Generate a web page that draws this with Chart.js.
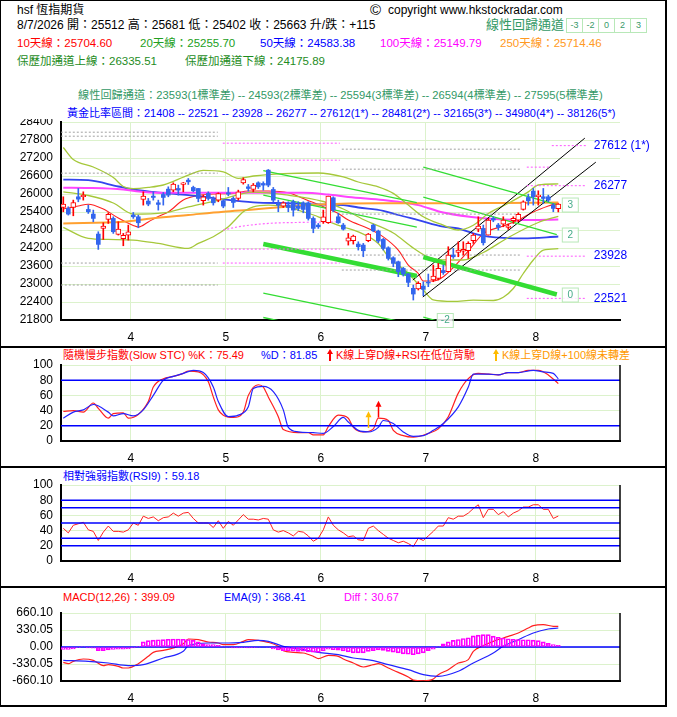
<!DOCTYPE html>
<html><head><meta charset="utf-8">
<script src="https://cdn.jsdelivr.net/npm/chart.js@4.4.1/dist/chart.umd.min.js"></script>
<style>
body{margin:0;background:#fff;width:677px;height:717px;overflow:hidden;position:relative;font-family:"Liberation Sans","Noto Sans CJK TC",sans-serif;}
.t{position:absolute;white-space:nowrap;font-size:11.5px;line-height:14px;}
canvas{position:absolute;left:0;top:0;}
.hl{position:absolute;background:#000;}
.bx{position:absolute;top:18px;height:13px;width:15px;border:1px solid #b8e8b8;font-size:9px;line-height:13px;text-align:center;color:#3a9a6a;}
</style></head><body>
<div class="hl" style="left:0;top:0;width:667px;height:1px"></div>
<div class="hl" style="left:0;top:0;width:1px;height:707px"></div>
<div class="hl" style="left:665px;top:0;width:2px;height:707px"></div>
<div class="hl" style="left:0;top:705px;width:667px;height:2px"></div>
<div class="hl" style="left:0;top:346px;width:667px;height:2px"></div>
<div class="hl" style="left:0;top:466px;width:667px;height:2px"></div>
<div class="hl" style="left:0;top:586px;width:667px;height:2px"></div>

<div class="t" style="left:17px;top:3px;color:#000;font-size:12px">hsf 恆指期貨</div>
<div class="t" style="left:17px;top:18px;color:#000;font-size:12px">8/7/2026 開：25512 高：25681 低：25402 收：25663 升/跌：+115</div>
<div class="t" style="left:17px;top:36px;color:#ff0000">10天線：25704.60</div>
<div class="t" style="left:140px;top:36px;color:#22a022">20天線：25255.70</div>
<div class="t" style="left:260px;top:36px;color:#0000ff">50天線：24583.38</div>
<div class="t" style="left:380px;top:36px;color:#ff00ff">100天線：25149.79</div>
<div class="t" style="left:500px;top:36px;color:#ff9922">250天線：25714.46</div>
<div class="t" style="left:17px;top:54px;color:#1e8c1e">保歷加通道上線：26335.51</div>
<div class="t" style="left:185px;top:54px;color:#1e8c1e">保歷加通道下線：24175.89</div>
<div class="t" style="left:370px;top:1px;color:#000;font-size:15px;line-height:18px">©</div>
<div class="t" style="left:388px;top:3px;color:#000;font-size:12px">copyright www.hkstockradar.com</div>
<div class="t" style="left:486px;top:18px;color:#339966;font-size:13px">線性回歸通道</div>
<div class="bx" style="left:566px">-3</div>
<div class="bx" style="left:582px">-2</div>
<div class="bx" style="left:598px">0</div>
<div class="bx" style="left:614px">2</div>
<div class="bx" style="left:630px">3</div>
<div class="t" style="left:78px;top:88px;color:#339966;font-size:11.2px">線性回歸通道：23593(1標準差) -- 24593(2標準差) -- 25594(3標準差) -- 26594(4標準差) -- 27595(5標準差)</div>
<div class="t" style="left:67px;top:106px;color:#0000ff;font-size:11px">黃金比率區間：21408 -- 22521 -- 23928 -- 26277 -- 27612(1*) -- 28481(2*) -- 32165(3*) -- 34980(4*) -- 38126(5*)</div>

<div class="t" style="left:63px;top:348px;color:#ff0000;font-size:11px">隨機慢步指數(Slow STC) %K：75.49</div>
<div class="t" style="left:261px;top:348px;color:#0000ff;font-size:11px">%D：81.85</div>
<svg style="position:absolute;left:326px;top:348px" width="8" height="14"><path d="M4 1 L7 6 L5 6 L5 13 L3 13 L3 6 L1 6 Z" fill="#ff0000"/></svg>
<div class="t" style="left:336px;top:348px;color:#ff0000;font-size:11px">K線上穿D線+RSI在低位背馳</div>
<svg style="position:absolute;left:492px;top:348px" width="8" height="14"><path d="M4 1 L7 6 L5 6 L5 13 L3 13 L3 6 L1 6 Z" fill="#ffbb00"/></svg>
<div class="t" style="left:502px;top:348px;color:#ff9900;font-size:11px">K線上穿D線+100線未轉差</div>
<div class="t" style="left:63px;top:469px;color:#0000ff;font-size:11px">相對強弱指數(RSI9)：59.18</div>
<div class="t" style="left:63px;top:590px;color:#ff0000;font-size:11px">MACD(12,26)：399.09</div>
<div class="t" style="left:224px;top:590px;color:#0000ff;font-size:11px">EMA(9)：368.41</div>
<div class="t" style="left:344px;top:590px;color:#ff00ff;font-size:11px">Diff：30.67</div>

<canvas id="cPrice" width="677" height="717"></canvas>
<canvas id="cStoch" width="677" height="717"></canvas>
<canvas id="cRsi" width="677" height="717"></canvas>
<canvas id="cMacd" width="677" height="717"></canvas>
<div style="position:absolute;left:12px;top:109px;width:46px;height:10px;background:#fff;z-index:5"></div>

<script>
// ---------- DATA ----------
const monthStart = [14, 33, 52, 73, 95];      // day index of first trading day per month
const monthLabels = ['4', '5', '6', '7', '8'];

const open  = [25552,25519,25552,25907,25907,25485,25330,24664,24853,25152,25186,24653,24508,24631,25297,25241,25818,25763,25929,25707,
               25985,26162,26129,26184,26318,26462,26218,26184,25774,26018,25829,25796,25774,26040,25852,25852,26373,26240,26151,26373,
               26351,26795,26151,25685,25597,25630,25741,25597,25707,25707,25186,24963,25075,25041,25874,25241,24963,24431,24442,24331,
               24297,24442,24963,24764,24486,24208,23875,23742,23520,23332,22855,22832,22932,23065,23132,23187,23450,23409,23965,24053,
               24098,24109,24442,24830,24853,24630,25186,24964,24997,24886,25108,25130,25485,25885,26096,25907,25907,25907,25630,25512];
const high  = [25907,25574,25796,26184,26073,25630,25463,24742,25041,25374,25241,25075,24686,24963,25385,25297,26073,25852,26073,25796,
               26051,26240,26373,26296,26384,26518,26262,26184,25962,26073,25907,26040,25796,26218,25907,26129,26540,26318,26351,26407,
               26407,26817,26218,25796,25741,25741,25796,25741,25741,25741,25241,25019,25463,25929,25907,25352,25019,24686,24630,24408,
               24353,24686,24997,24797,24520,24242,23909,23765,23554,23354,22966,23076,23076,23332,23632,23687,23632,24242,24187,24408,
               24408,24408,24686,25241,24964,25186,25241,25019,25241,24997,25241,25374,25774,25996,26185,26107,26185,25963,25685,25681];
const low   = [25408,25297,25274,25741,25796,25352,25075,24153,24486,25019,24686,24631,24275,24464,25186,24875,25630,25608,25796,25463,
               25630,25907,26073,25962,26073,26318,26073,25741,25630,25796,25630,25741,25541,25940,25552,25796,26329,26096,26073,26184,
               26129,26240,25741,25408,25552,25408,25263,25441,25374,25130,24708,24853,25019,25019,25408,25019,24797,24297,24331,24131,
               23909,24408,24742,24375,24131,23798,23576,23243,23265,22910,22466,22799,22610,22910,23076,23132,23320,23409,23854,23909,
               23965,23854,24353,24742,24298,24630,25075,24797,24908,24820,25019,25075,25463,25630,25630,25630,25685,25741,25408,25402];
const close = [25663,25330,25718,25829,25962,25408,25186,24320,24930,25319,24742,24830,24619,24742,25241,25041,25929,25663,25885,25652,
               25885,25962,26329,26129,26373,26407,26107,25852,25907,25852,25707,26018,25597,25996,25718,26073,26484,26184,26296,26240,
               26296,26296,25796,25630,25707,25552,25463,25519,25485,25186,24853,24908,25241,25929,25463,25041,24830,24542,24597,24242,
               24109,24664,24775,24431,24186,23853,23687,23409,23332,23054,22666,23021,22821,23032,23265,23520,23380,23965,23909,24131,
               24153,24353,24630,24930,24375,25130,25130,24886,25130,24930,25186,25319,25741,25774,25907,25963,25852,25796,25519,25663];

// moving averages [dayIndex, value]
const ma10  = [[0,25500],[3,25600],[5,25660],[8,25500],[11,25200],[14,24950],[15,24900],[17,25070],[19,25250],[21,25400],[24,25800],[27,25950],[30,26000],[34,26020],[37,26100],[41,26100],[45,26040],[48,25850],[51,25650],[55,25350],[57,25130],[61,24850],[64,24570],[67,24130],[69,23630],[71,23350],[72,23100],[74,23100],[76,23240],[78,23550],[81,24100],[84,24680],[88,24930],[91,25130],[94,25400],[97,25600],[99,25705]];
const ma20  = [[0,26070],[5,25950],[10,25700],[14,25330],[20,25370],[25,25570],[31,25790],[38,26060],[45,25960],[52,25750],[56,25500],[60,25150],[66,24700],[70,24200],[73,23900],[77,23800],[80,23800],[84,24050],[89,24550],[95,25050],[99,25256]];
const ma50  = [[0,26480],[5,26460],[11,26250],[14,26150],[18,26070],[25,25960],[28,25910],[32,25820],[38,25720],[46,25690],[51,25650],[56,25630],[59,25550],[64,25440],[67,25300],[71,25130],[76,24910],[79,24850],[82,24690],[85,24580],[92,24520],[99,24583]];
const ma100 = [[0,26210],[5,26200],[12,26150],[16,26070],[22,26040],[38,26040],[48,26040],[53,25980],[57,25900],[64,25800],[67,25740],[71,25630],[76,25380],[84,25190],[92,25130],[99,25150]];
const ma250 = [[0,25020],[12,25075],[18,25190],[25,25300],[32,25410],[38,25485],[44,25570],[51,25650],[57,25685],[64,25690],[76,25690],[88,25700],[99,25714]];
const bollUp = [[0,27550],[2,27150],[6,26900],[10,26550],[12,26250],[14,26180],[17,26220],[20,26300],[25,26630],[28,26790],[32,26740],[35,26520],[38,26600],[44,26680],[51,26700],[56,26570],[59,26400],[63,26240],[66,26020],[69,25630],[72,25240],[76,24960],[79,24800],[82,24960],[85,25350],[89,25690],[93,26070],[95,26300],[99,26336]];
const bollLo = [[0,24886],[5,24520],[9,24486],[14,24464],[19,24353],[25,24186],[27,24353],[30,24575],[33,24908],[34,25074],[36,25408],[38,25574],[41,25630],[45,25574],[47,25463],[51,25241],[54,25019],[56,24900],[59,24740],[63,24350],[65,23910],[69,23350],[72,22800],[74,22470],[78,22420],[82,22460],[86,22450],[88,22560],[90,22850],[92,23350],[94,23800],[96,24130],[99,24176]];

// regression channels: [startIdx, startValue, endIdx, endValue]
const chanA = { '+3':[40,26779,70.7,25713], '+2':[40,25963,70.7,24897], '0':[40,24331,70.7,23265], '-2':[40,22699,70.7,21633], '-3':[40,21883,70.7,20817] };
const chanB = { '3':[72,26898,98.7,25649], '2':[72,25898,98.7,24649], '0':[72,23898,98.7,22649], '-2':[72,21898,98.7,20649] };
const blackUp = [[69.9,23132],[104.3,27861]];
const blackLo = [[71.9,22566],[106.5,27061]];

// horizontal reference levels
const grayLv1 = [28060, 27927, 26695, 23698, 22966], graySpan1 = [-0.5, 30.9];
const grayLv2 = [27494, 26828, 25330, 23965, 23465], graySpan2 = [55.7, 91.3];
const pinkLv1 = [27694, 27128, 24164, 23698],        pinkSpan1 = [31.9, 55.3];
const pinkCurve = [[32,24797],[35,24908],[41,25019],[47,25052],[55,25074]];
const goldLv = [27612, 26277, 23928, 22521], goldSpan = [[97.7,104.7],[92.7,104.7],[92.7,104.7],[92.7,104.7]];
const goldText = ['27612 (1*)', '26277', '23928', '22521'];
const pinkShort = [[92.7,26895],[97.3,26895]];

// stochastic
const stochK = [[0,39],[2,40],[4,38],[6,50],[7,43],[9,30],[10,36],[12,37],[13,30],[17,52],[18,71],[20,82],[22,85],[24,89],[25,92],[27,91],[29,78],[30,58],[31,41],[32,34],[34,31],[36,38],[37,60],[39,74],[40,71],[41,58],[43,32],[44,15],[47,11],[49,11],[50,8],[52,8],[53,19],[55,34],[57,30],[58,18],[60,12],[62,16],[63,30],[65,27],[66,14],[68,7],[70,5],[73,10],[75,16],[77,32],[79,63],[81,82],[83,89],[85,88],[87,87],[89,90],[91,90],[93,93],[95,93],[97,87],[99,75.49]];
const stochD = [[0,30],[2,38],[4,41],[6,48],[9,38],[10,33],[12,36],[14,33],[16,41],[18,60],[20,80],[22,85],[24,89],[26,93],[28,90],[30,71],[31,52],[33,32],[35,34],[37,45],[38,69],[40,72],[42,65],[44,41],[45,18],[47,12],[50,11],[52,10],[54,19],[56,31],[57,25],[59,14],[61,12],[63,18],[64,27],[66,23],[68,12],[70,6],[72,7],[74,14],[76,23],[79,45],[81,71],[82,88],[85,88],[87,87],[89,90],[91,90],[94,93],[96,91],[98,89],[99,81.85]];
const stochArrows = [{i:61, from:17, to:39, color:'#ffbb00'}, {i:63, from:31, to:53, color:'#ff0000'}];
const stochLines = [80, 20];

// RSI(9)
const rsi = [43,37,47,49,51,41,39,27,38,46,39,39,38,41,50,47,59,56,58,53,57,58,63,59,63,64,56,50,50,50,
             44,53,43,52,47,54,61,55,55,54,56,55,41,38,40,37,33,39,38,33,26,30,41,58,47,41,37,32,33,28,
             27,43,46,40,35,30,27,24,26,23,19,30,27,33,39,46,46,57,55,59,59,63,69,74,57,68,68,61,65,58,
             63,66,71,71,74,74,68,68,56,59.18];
const rsiLines = [80, 70, 50, 30, 20];

// MACD
const macd = [[0,-298],[1,-324],[2,-278],[4,-233],[6,-259],[8,-362],[9,-343],[11,-375],[12,-408],[13,-408],[15,-324],[17,-181],[18,-104],[20,-65],[22,-19],[24,65],[25,155],[27,142],[29,97],[31,78],[32,45],[34,45],[36,110],[37,142],[39,129],[41,91],[43,13],[44,-71],[46,-104],[48,-116],[50,-181],[51,-226],[53,-162],[55,-181],[56,-233],[58,-310],[60,-388],[62,-343],[63,-324],[65,-408],[67,-492],[69,-582],[70,-640],[72,-655],[74,-621],[75,-537],[77,-440],[79,-310],[81,-246],[82,-84],[84,26],[86,110],[88,175],[89,207],[91,272],[93,369],[94,414],[96,433],[98,401],[99,399.09]];
const ema9 = [[0,-259],[5,-278],[9,-311],[13,-362],[16,-343],[20,-214],[24,-84],[25,26],[29,78],[32,78],[36,91],[39,129],[41,110],[44,13],[48,-52],[51,-104],[55,-149],[58,-214],[62,-265],[65,-343],[69,-440],[72,-537],[75,-569],[79,-472],[82,-311],[86,-116],[88,13],[91,142],[94,272],[97,349],[99,368.41]];
const diff = [-45,-45,-35,-5,10,-20,-25,-70,-70,-55,-45,-40,-40,-35,-20,15,100,125,135,140,142,150,155,155,150,145,130,100,60,45,
              45,30,10,-10,-20,-20,-15,-20,-15,-10,0,-10,-35,-55,-70,-75,-80,-85,-80,-95,-100,-105,-75,-40,-50,-60,-75,-95,-115,-115,
              -115,-85,-70,-55,-65,-85,-100,-115,-135,-140,-150,-135,-115,-70,-40,10,60,100,130,145,165,180,215,230,240,240,210,190,175,160,
              150,145,140,140,135,125,100,70,45,30.67];
const macdTicks = [-660.10, -330.05, 0, 330.05, 660.10];

// ---------- CHART HELPERS ----------
const X_MIN = -0.46, X_MAX = 111.34;
const GRID = '#dcf2cc';
const FONT = {family: '"Liberation Sans","Noto Sans CJK TC",sans-serif', size: 12};
const P = a => a.map(p => ({x: p[0], y: p[1]}));
const line = (data, color, w, extra) => Object.assign({type: 'line', data, borderColor: color, borderWidth: w, pointRadius: 0, fill: false, order: 10, cubicInterpolationMode: 'monotone'}, extra || {});

function makeChart(id, plotTop, plotBottom, yScale, datasets, plugins) {
  return new Chart(document.getElementById(id), {
    type: 'line',
    data: {datasets},
    options: {
      responsive: false, animation: false, devicePixelRatio: 1,
      layout: {padding: {left: 0, right: 677 - 620, top: plotTop, bottom: 717 - plotBottom - 26}},
      plugins: {legend: {display: false}, tooltip: {enabled: false}},
      scales: {
        x: {
          type: 'linear', min: X_MIN, max: X_MAX, offset: false,
          afterFit: s => { s.height = 26; },
          afterBuildTicks: s => { s.ticks = monthStart.map(v => ({value: v - 0.5})); },
          ticks: {callback: (v, i) => monthLabels[i], autoSkip: false, maxRotation: 0, padding: 10, color: '#000', font: FONT},
          grid: {color: GRID, drawTicks: false, lineWidth: 1, offset: false},
          border: {color: '#000', width: 2}
        },
        y: Object.assign({
          afterFit: s => { s.width = 61; },
          grid: {color: GRID, drawTicks: false},
          border: {color: '#000', width: 2}
        }, yScale)
      }
    },
    plugins: plugins || []
  });
}

const rightBorder = {id: 'rightBorder', afterDraw(c) {
  const {ctx, chartArea: a} = c;
  ctx.save(); ctx.strokeStyle = '#000'; ctx.lineWidth = 1.5;
  ctx.beginPath(); ctx.moveTo(a.right, a.top); ctx.lineTo(a.right, a.bottom + 1); ctx.stroke(); ctx.restore();
}};

// ---------- PRICE PANEL ----------
const priceSets = [];
grayLv1.forEach(v => priceSets.push(line([{x: graySpan1[0], y: v}, {x: graySpan1[1], y: v}], '#a0a0a0', 1, {borderDash: [2, 2]})));
grayLv2.forEach(v => priceSets.push(line([{x: graySpan2[0], y: v}, {x: graySpan2[1], y: v}], '#a0a0a0', 1, {borderDash: [2, 2]})));
pinkLv1.forEach(v => priceSets.push(line([{x: pinkSpan1[0], y: v}, {x: pinkSpan1[1], y: v}], '#ff55ff', 1, {borderDash: [2, 2]})));
priceSets.push(line(P(pinkCurve), '#ff66ff', 1.2, {borderDash: [2, 2]}));
goldLv.forEach((v, k) => priceSets.push(line([{x: goldSpan[k][0], y: v}, {x: goldSpan[k][1], y: v}], '#ff55ff', 1, {borderDash: [2, 2], clip: false})));
priceSets.push(line(P(pinkShort), '#ff55ff', 1, {borderDash: [2, 2]}));
Object.keys(chanA).forEach(k => { const s = chanA[k]; priceSets.push(line([{x: s[0], y: s[1]}, {x: s[2], y: s[3]}], '#33dd33', k === '0' ? 4.5 : 1.3)); });
Object.keys(chanB).forEach(k => { const s = chanB[k]; priceSets.push(line([{x: s[0], y: s[1]}, {x: s[2], y: s[3]}], '#33dd33', k === '0' ? 4.5 : 1.3)); });
priceSets.push(line(P(blackUp), '#000', 1, {clip: false}));
priceSets.push(line(P(blackLo), '#000', 1, {clip: false}));
priceSets.push(line(P(bollUp), '#a6c83a', 1.3));
priceSets.push(line(P(bollLo), '#a6c83a', 1.3));
priceSets.push(line(P(ma20), '#a6c83a', 1.3));
priceSets.push(line(P(ma250), '#ffa030', 2));
priceSets.push(line(P(ma100), '#ff44ff', 2));
priceSets.push(line(P(ma50), '#3344ee', 1.8));
priceSets.push(line(P(ma10), '#ff2020', 1.1));

const wUp = [], wDn = [], bUp = [], bDn = [];
open.forEach((o, i) => {
  const c = close[i], up = c >= o;
  (up ? wUp : wDn).push({x: i, y: [low[i], high[i]]});
  (up ? bUp : bDn).push({x: i, y: [Math.min(o, c), Math.max(o, c)]});
});
const bar = (data, fill, border, thick, bw, order) => ({type: 'bar', data, backgroundColor: fill, borderColor: border, borderWidth: bw, barThickness: thick, grouped: false, borderSkipped: false, order});
priceSets.push(bar(wUp, '#ff0000', '#ff0000', 1, 0, 3));
priceSets.push(bar(wDn, '#3366ee', '#3366ee', 1, 0, 3));
priceSets.push(bar(bUp, '#ffffff', '#ff0000', 5, 1, 1));
priceSets.push(bar(bDn, '#3366ee', '#3366ee', 4, 0, 1));

const priceAnno = {id: 'priceAnno', afterDatasetsDraw(c) {
  const {ctx, scales: {x, y}, chartArea: a} = c;
  ctx.save();
  ctx.font = '10px "Liberation Sans"'; ctx.textAlign = 'center'; ctx.textBaseline = 'middle';
  Object.keys(chanB).forEach(k => {
    const s = chanB[k];
    let cx = x.getPixelForValue(s[2]) + 13, cy = y.getPixelForValue(s[3]);
    if (s[3] < y.min) { const t = (s[1] - y.min) / (s[1] - s[3]); cx = x.getPixelForValue(s[0] + t * (s[2] - s[0])) + 11; cy = a.bottom; }
    ctx.fillStyle = 'rgba(255,255,255,0.85)'; ctx.fillRect(cx - 8, cy - 7, 16, 14);
    ctx.strokeStyle = '#b8e8b8'; ctx.lineWidth = 1; ctx.strokeRect(cx - 7.5, cy - 6.5, 16, 14);
    ctx.fillStyle = '#44aa88'; ctx.fillText(k, cx + 0.5, cy + 0.5);
  });
  ctx.font = '12px "Liberation Sans"'; ctx.textAlign = 'left'; ctx.fillStyle = '#0000ff';
  goldLv.forEach((v, k) => ctx.fillText(goldText[k], x.getPixelForValue(goldSpan[k][1]) + 7, y.getPixelForValue(v)));
  ctx.restore();
}};

makeChart('cPrice', 122, 320, {
  type: 'linear', min: 21800, max: 28400,
  ticks: {stepSize: 600, autoSkip: false, callback: v => String(v), color: '#000', font: FONT, padding: 8}
}, priceSets, [priceAnno]);

// ---------- STOCH PANEL ----------
const stochSets = stochLines.map(v => line([{x: X_MIN, y: v}, {x: X_MAX, y: v}], '#0000ff', 1.5, {cubicInterpolationMode: 'default'}));
stochSets.push(line(P(stochD), '#2222ff', 1.2));
stochSets.push(line(P(stochK), '#ff2020', 1.2));
const stochAnno = {id: 'stochAnno', afterDatasetsDraw(c) {
  const {ctx, scales: {x, y}} = c;
  stochArrows.forEach(a => {
    const px = Math.round(x.getPixelForValue(a.i)) + 0.5, y0 = y.getPixelForValue(a.from), y1 = y.getPixelForValue(a.to);
    ctx.save(); ctx.strokeStyle = a.color; ctx.fillStyle = a.color; ctx.lineWidth = 1.5;
    ctx.beginPath(); ctx.moveTo(px, y0); ctx.lineTo(px, y1 + 5); ctx.stroke();
    ctx.beginPath(); ctx.moveTo(px, y1); ctx.lineTo(px - 3, y1 + 6); ctx.lineTo(px + 3, y1 + 6); ctx.closePath(); ctx.fill();
    ctx.restore();
  });
}};
makeChart('cStoch', 365, 441, {
  type: 'linear', min: 0, max: 100,
  ticks: {stepSize: 20, autoSkip: false, color: '#000', font: FONT, padding: 8}
}, stochSets, [stochAnno, rightBorder]);

// ---------- RSI PANEL ----------
const rsiSets = rsiLines.map(v => line([{x: X_MIN, y: v}, {x: X_MAX, y: v}], '#0000ff', 1.5, {cubicInterpolationMode: 'default'}));
rsiSets.push(line(rsi.map((v, i) => ({x: i, y: v})), '#ff2020', 1, {cubicInterpolationMode: 'default'}));
makeChart('cRsi', 485, 561, {
  type: 'linear', min: 0, max: 100,
  ticks: {stepSize: 20, autoSkip: false, color: '#000', font: FONT, padding: 8}
}, rsiSets, [rightBorder]);

// ---------- MACD PANEL ----------
const macdSets = [];
macdSets.push(line([{x: X_MIN, y: 0}, {x: X_MAX, y: 0}], '#0000ff', 1.5, {cubicInterpolationMode: 'default'}));
macdSets.push(line(P(ema9), '#2222ff', 1.2));
macdSets.push(line(P(macd), '#ff2020', 1.2));
macdSets.push({type: 'bar', data: diff.map((v, i) => ({x: i, y: v})), backgroundColor: 'rgba(255,255,255,0)', borderColor: '#ff00ff', borderWidth: 1, barThickness: 4, grouped: false, borderSkipped: false, order: 5});
makeChart('cMacd', 613, 681, {
  type: 'linear', min: -660.1, max: 660.1,
  afterBuildTicks: s => { s.ticks = macdTicks.map(v => ({value: v})); },
  ticks: {autoSkip: false, callback: v => v.toFixed(2), color: '#000', font: FONT, padding: 8}
}, macdSets, [rightBorder]);
</script>
</body></html>
